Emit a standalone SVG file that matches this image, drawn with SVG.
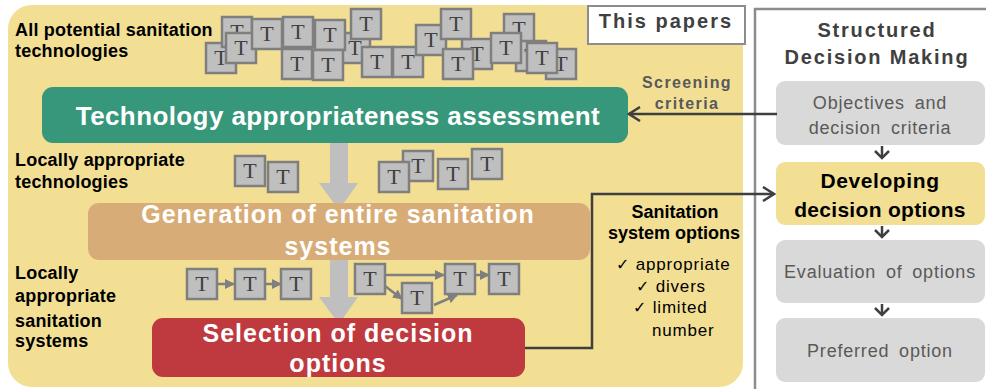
<svg xmlns="http://www.w3.org/2000/svg" xmlns:xlink="http://www.w3.org/1999/xlink" width="986" height="389" viewBox="0 0 986 389">
  <style>
    .sans { font-family: "Liberation Sans", Arial, sans-serif; }
    .lbl { font-family: "Liberation Sans", Arial, sans-serif; font-weight: bold; font-size: 18px; fill: #000; letter-spacing: 0.2px; }
    .stage { font-family: "Liberation Sans", Arial, sans-serif; font-weight: bold; fill: #fff; text-anchor: middle; }
    .sdm { font-family: "Liberation Sans", Arial, sans-serif; font-size: 18px; fill: #595959; text-anchor: middle; letter-spacing: 0.8px; word-spacing: 4px; }
    .tick { font-family: "DejaVu Sans", sans-serif; font-size: 16px; }
    .tb rect { fill: #BFBFBF; stroke: #7F7F7F; stroke-width: 2.5; }
    .tb text { font-family: "Liberation Serif", "Times New Roman", serif; font-size: 22px; fill: #404040; text-anchor: middle; }
    .link { fill: none; stroke: #3F3F3F; stroke-width: 2.5; }
    .tlink { fill: none; stroke: #7F7F7F; stroke-width: 2.5; }
    .big { fill: #BFBFBF; }
  </style>
  <defs>
    <g id="tb" class="tb">
      <rect x="0" y="0" width="30" height="30"/>
      <text x="15" y="22">T</text>
    </g>
    <marker id="chev" markerUnits="userSpaceOnUse" viewBox="0 0 14 16" refX="12" refY="8" markerWidth="14" markerHeight="16" orient="auto">
      <path d="M1,1 L12,8 L1,15" fill="none" stroke="#3F3F3F" stroke-width="2.5"/>
    </marker>
    <marker id="chevS" markerUnits="userSpaceOnUse" viewBox="0 0 10 16" refX="8" refY="8" markerWidth="10" markerHeight="16" orient="auto">
      <path d="M1,1 L8,8 L1,15" fill="none" stroke="#3F3F3F" stroke-width="2.5"/>
    </marker>
    <marker id="tri" markerUnits="userSpaceOnUse" viewBox="0 0 10 10" refX="9" refY="5" markerWidth="10" markerHeight="10" orient="auto">
      <path d="M0,0 L10,5 L0,10 Z" fill="#7F7F7F"/>
    </marker>
  </defs>

  <!-- background panels -->
  <rect x="8" y="5" width="735" height="382" rx="24" fill="#F2DF94"/>
  <rect x="755" y="9" width="260" height="400" fill="#fff" stroke="#8C8C8C" stroke-width="2.5"/>

  <g id="this-papers">
    <rect x="588" y="6" width="157" height="38" fill="#fff" stroke="#8C8C8C" stroke-width="2"/>
    <text x="666" y="28" class="sans" font-size="20" font-weight="bold" fill="#404040" text-anchor="middle" letter-spacing="2">This papers</text>
  </g>

  <!-- side labels -->
  <g id="labels">
    <text class="lbl" x="15" y="36">All potential sanitation</text>
    <text class="lbl" x="15" y="57">technologies</text>
    <text class="lbl" x="15" y="166">Locally appropriate</text>
    <text class="lbl" x="15" y="188">technologies</text>
    <text class="lbl" x="15" y="279">Locally</text>
    <text class="lbl" x="15" y="302">appropriate</text>
    <text class="lbl" x="15" y="327">sanitation</text>
    <text class="lbl" x="15" y="347">systems</text>
  </g>

  <!-- flow arrows between the stages -->
  <g id="stage-arrows">
    <polygon class="big" points="330,143 348,143 348,183 358,183 339,210 319,183 330,183"/>
    <polygon class="big" points="330,258 348,258 348,297 358,297 339,324 319,297 330,297"/>
  </g>

  <!-- technology cloud -->
  <g id="all-technologies">
    <use xlink:href="#tb" x="206" y="43"/>
    <use xlink:href="#tb" x="222" y="17"/>
    <use xlink:href="#tb" x="226" y="33"/>
    <use xlink:href="#tb" x="252" y="19"/>
    <use xlink:href="#tb" x="283" y="17"/>
    <use xlink:href="#tb" x="340" y="33"/>
    <use xlink:href="#tb" x="315" y="20"/>
    <use xlink:href="#tb" x="351" y="9"/>
    <use xlink:href="#tb" x="313" y="50"/>
    <use xlink:href="#tb" x="282" y="49"/>
    <use xlink:href="#tb" x="362" y="47"/>
    <use xlink:href="#tb" x="393" y="47"/>
    <use xlink:href="#tb" x="462" y="39"/>
    <use xlink:href="#tb" x="416" y="25"/>
    <use xlink:href="#tb" x="441" y="9"/>
    <use xlink:href="#tb" x="443" y="49"/>
    <use xlink:href="#tb" x="504" y="14"/>
    <use xlink:href="#tb" x="516" y="41"/>
    <use xlink:href="#tb" x="546" y="49"/>
    <use xlink:href="#tb" x="491" y="33"/>
    <use xlink:href="#tb" x="527" y="43"/>
  </g>

  <g id="appropriate-technologies">
    <use xlink:href="#tb" x="235" y="156"/>
    <use xlink:href="#tb" x="268" y="162"/>
    <use xlink:href="#tb" x="403" y="151"/>
    <use xlink:href="#tb" x="379" y="162"/>
    <use xlink:href="#tb" x="438" y="159"/>
    <use xlink:href="#tb" x="472" y="149"/>
  </g>

  <g id="sanitation-systems">
    <g class="tlinks">
      <line class="tlink" x1="217" y1="284" x2="234" y2="284" marker-end="url(#tri)"/>
      <line class="tlink" x1="265" y1="284" x2="281" y2="284" marker-end="url(#tri)"/>
      <line class="tlink" x1="385" y1="275" x2="444" y2="275" marker-end="url(#tri)"/>
      <line class="tlink" x1="385" y1="286" x2="402" y2="299" marker-end="url(#tri)"/>
      <line class="tlink" x1="434" y1="305" x2="457" y2="295" marker-end="url(#tri)"/>
      <line class="tlink" x1="475" y1="275" x2="489" y2="275" marker-end="url(#tri)"/>
    </g>
    <use xlink:href="#tb" x="187" y="269"/>
    <use xlink:href="#tb" x="235" y="269"/>
    <use xlink:href="#tb" x="281" y="269"/>
    <use xlink:href="#tb" x="355" y="264"/>
    <use xlink:href="#tb" x="402" y="283"/>
    <use xlink:href="#tb" x="445" y="264"/>
    <use xlink:href="#tb" x="489" y="264"/>
  </g>

  <!-- process stages -->
  <g id="assessment">
    <rect x="42" y="87" width="586" height="56" rx="11" fill="#36977A"/>
    <text class="stage" x="338" y="125" font-size="26" letter-spacing="0.4">Technology appropriateness assessment</text>
  </g>
  <g id="generation">
    <rect x="88" y="203" width="502" height="57" rx="11" fill="#D8AC77"/>
    <text class="stage" x="338" y="223" font-size="25" letter-spacing="1">Generation of entire sanitation</text>
    <text class="stage" x="338" y="255" font-size="25" letter-spacing="1">systems</text>
  </g>
  <g id="selection">
    <rect x="152" y="318" width="373" height="59" rx="11" fill="#BF3A3F"/>
    <text class="stage" x="338" y="342" font-size="25" letter-spacing="1">Selection of decision</text>
    <text class="stage" x="338" y="372" font-size="25" letter-spacing="1">options</text>
  </g>

  <g id="options-note" class="sans">
    <text x="675" y="218" font-size="18" font-weight="bold" text-anchor="middle">Sanitation</text>
    <text x="674" y="239" font-size="18" font-weight="bold" text-anchor="middle">system options</text>
    <text x="616" y="270" font-size="17" letter-spacing="0.8"><tspan class="tick">✓</tspan> appropriate</text>
    <text x="636" y="292" font-size="17" letter-spacing="0.8"><tspan class="tick">✓</tspan> divers</text>
    <text x="633" y="313" font-size="17" letter-spacing="0.8"><tspan class="tick">✓</tspan> limited</text>
    <text x="652" y="336" font-size="17" letter-spacing="0.8">number</text>
  </g>

  <text x="687" y="88" class="sans" font-size="16" font-weight="bold" fill="#595959" text-anchor="middle" letter-spacing="1.4">Screening</text>
  <text x="687" y="109" class="sans" font-size="16" font-weight="bold" fill="#595959" text-anchor="middle" letter-spacing="1.4">criteria</text>

  <!-- structured decision making column -->
  <g id="sdm-title" class="sans" font-weight="bold" font-size="20" fill="#404040" text-anchor="middle" letter-spacing="1.8">
    <text x="877" y="37">Structured</text>
    <text x="877" y="64">Decision Making</text>
  </g>
  <g id="objectives">
    <rect x="776" y="81" width="209" height="64" rx="9" fill="#D9D9D9"/>
    <text class="sdm" x="880" y="109">Objectives and</text>
    <text class="sdm" x="880" y="134">decision criteria</text>
  </g>
  <g id="developing">
    <rect x="776" y="162" width="209" height="63" rx="9" fill="#F2DF94"/>
    <text class="sans" x="880" y="188" font-size="21" font-weight="bold" text-anchor="middle" letter-spacing="0.6">Developing</text>
    <text class="sans" x="880" y="217" font-size="21" font-weight="bold" text-anchor="middle" letter-spacing="0.3">decision options</text>
  </g>
  <g id="evaluation">
    <rect x="776" y="240" width="209" height="63" rx="9" fill="#D9D9D9"/>
    <text class="sdm" x="880" y="278">Evaluation of options</text>
  </g>
  <g id="preferred">
    <rect x="776" y="318" width="209" height="64" rx="9" fill="#D9D9D9"/>
    <text class="sdm" x="880" y="357">Preferred option</text>
  </g>

  <!-- connectors -->
  <g id="connectors">
    <line class="link" x1="777" y1="114" x2="629" y2="114" marker-end="url(#chev)"/>
    <polyline class="link" points="525,348 592,348 592,194 774,194" marker-end="url(#chev)"/>
    <line class="link" x1="882" y1="146" x2="882" y2="158" marker-end="url(#chevS)"/>
    <line class="link" x1="882" y1="226" x2="882" y2="237" marker-end="url(#chevS)"/>
    <line class="link" x1="882" y1="304" x2="882" y2="315" marker-end="url(#chevS)"/>
  </g>
</svg>
